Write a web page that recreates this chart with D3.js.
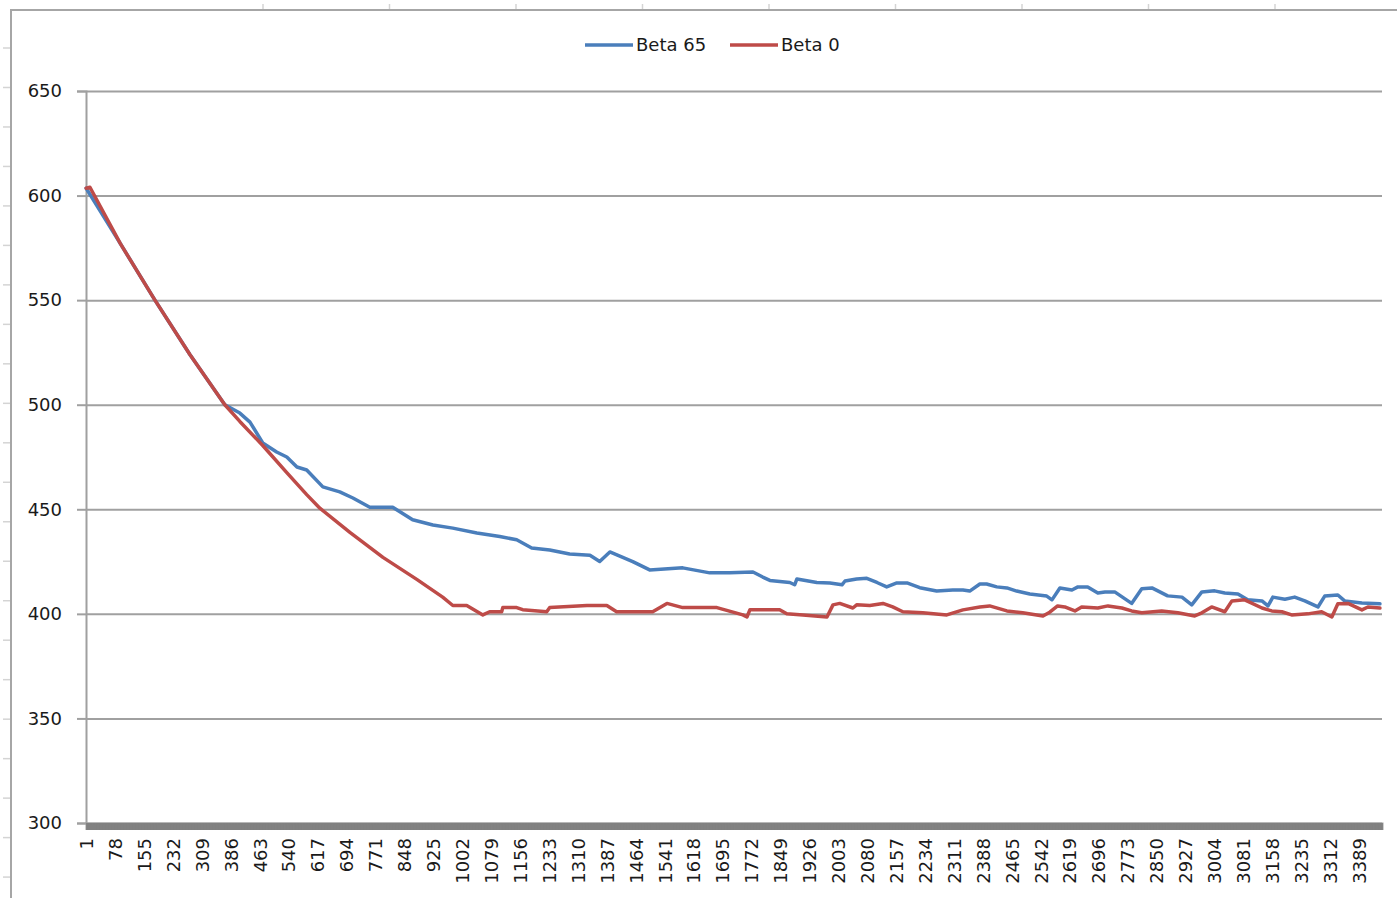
<!DOCTYPE html>
<html>
<head>
<meta charset="utf-8">
<script src="https://cdn.jsdelivr.net/npm/d3@7"></script>
<style>
  html, body { margin: 0; padding: 0; background: #fff; }
  svg { display: block; }
  text { font-family: "DejaVu Sans", Verdana, sans-serif; fill: #1a1a1a; }
</style>
</head>
<body>
<svg id="chart" width="1397" height="898"></svg>
<script>
// number of categories on the x axis (1 .. N)
const categoryCount = 3450;

const xTickLabels = [1, 78, 155, 232, 309, 386, 463, 540, 617, 694, 771, 848, 925, 1002, 1079,
  1156, 1233, 1310, 1387, 1464, 1541, 1618, 1695, 1772, 1849, 1926, 2003, 2080, 2157, 2234,
  2311, 2388, 2465, 2542, 2619, 2696, 2773, 2850, 2927, 3004, 3081, 3158, 3235, 3312, 3389];

const yTicks = [300, 350, 400, 450, 500, 550, 600, 650];

// Beta 65 : [category, value]
const beta65 = [
  [1, 603.5], [92, 577], [184, 550], [277, 524], [370, 500], [410, 496], [437, 491.7],
  [471, 481.7], [508, 477.4], [535, 475], [562, 470.2], [588, 468.8], [631, 460.7],
  [676, 458.3], [711, 455.4], [756, 451], [817, 451], [870, 445], [924, 442.5], [977, 441],
  [1041, 438.7], [1102, 437], [1147, 435.4], [1187, 431.5], [1235, 430.5], [1288, 428.6],
  [1342, 428], [1368, 425], [1395, 429.6], [1456, 425], [1501, 421], [1589, 422],
  [1661, 419.6], [1714, 419.6], [1776, 420], [1802, 417.6], [1821, 416], [1874, 415],
  [1887, 413.9], [1893, 416.7], [1946, 415], [1981, 414.8], [2013, 413.9], [2021, 415.7],
  [2052, 416.7], [2079, 417], [2106, 415], [2132, 412.9], [2159, 414.8], [2186, 414.8],
  [2220, 412.5], [2265, 410.9], [2308, 411.4], [2335, 411.4], [2353, 410.9], [2380, 414.3],
  [2398, 414.3], [2425, 412.9], [2452, 412.4], [2478, 410.9], [2513, 409.5], [2558, 408.5],
  [2572, 406.7], [2593, 412.4], [2625, 411.4], [2641, 412.9], [2667, 412.9], [2694, 410],
  [2713, 410.5], [2739, 410.5], [2784, 405], [2811, 412], [2838, 412.4], [2880, 408.6],
  [2918, 408], [2944, 404.3], [2971, 410.5], [3005, 411], [3032, 410], [3067, 409.5],
  [3093, 406.7], [3131, 406.2], [3147, 403.8], [3160, 408], [3192, 407], [3218, 408],
  [3245, 406.2], [3280, 403.3], [3298, 408.5], [3333, 409], [3351, 406.2], [3397, 405.2],
  [3445, 404.8]
];

// Beta 0 : [category, value]
const beta0 = [
  [1, 603.5], [11, 604], [92, 577], [184, 550], [277, 524], [370, 500], [410, 492],
  [471, 480.5], [535, 467.5], [588, 457], [623, 450.5], [703, 439], [791, 427],
  [881, 416.5], [950, 408], [977, 404], [1014, 404], [1057, 399.5], [1075, 401],
  [1107, 401], [1110, 403], [1147, 403], [1163, 402], [1227, 401], [1235, 403],
  [1334, 404], [1387, 404], [1413, 401], [1509, 401], [1547, 405], [1589, 403],
  [1680, 403], [1749, 399.5], [1760, 398.5], [1768, 402], [1847, 402], [1866, 400],
  [1909, 399.5], [1973, 398.5], [1989, 404.3], [2007, 405], [2042, 402.8], [2052, 404.3],
  [2087, 404], [2122, 405], [2148, 403.3], [2175, 401], [2228, 400.5], [2292, 399.5],
  [2335, 401.9], [2380, 403.3], [2406, 403.8], [2452, 401.4], [2494, 400.5], [2548, 399],
  [2566, 400.8], [2587, 403.8], [2606, 403.3], [2633, 401.4], [2651, 403.3], [2694, 402.8],
  [2721, 403.8], [2758, 402.8], [2784, 401.4], [2811, 400.5], [2864, 401.4], [2907, 400.5],
  [2952, 399], [2971, 400.5], [2997, 403.3], [3032, 401], [3051, 406.2], [3085, 406.7],
  [3131, 402.8], [3157, 401.4], [3184, 401], [3210, 399.5], [3253, 400], [3290, 401],
  [3317, 398.5], [3333, 404.8], [3360, 405], [3397, 401.9], [3413, 403.3], [3445, 402.8]
];

const seriesNames = ['Beta 65', 'Beta 0'];
const seriesColors = ['#4a7ebb', '#be4b48'];

const svg = d3.select('#chart');
const plot = { left: 86, right: 1382, top: 91, bottom: 823 };

const x = d3.scaleLinear().domain([0.5, categoryCount + 0.5]).range([plot.left, plot.right]);
const y = d3.scaleLinear().domain([300, 650]).range([plot.bottom, plot.top]);

// spreadsheet cell marks peeking out around the chart object
const sheet = svg.append('g').attr('stroke', '#d4d4d4').attr('stroke-width', 1.5);
d3.range(9).forEach((k) => {
  const cx = 263 + k * 126.5;
  sheet.append('line').attr('x1', cx).attr('x2', cx).attr('y1', 4).attr('y2', 10);
});
d3.range(22).forEach((k) => {
  const cy = 48 + k * 39.48;
  sheet.append('line').attr('x1', 3).attr('x2', 11).attr('y1', cy).attr('y2', cy);
});

// chart area border (top and left edges are visible)
svg.append('path')
  .attr('d', 'M11,898 L11,10 L1397,10')
  .attr('fill', 'none')
  .attr('stroke', '#a6a6a6')
  .attr('stroke-width', 2);

// horizontal gridlines
svg.append('g')
  .attr('transform', `translate(${plot.left},0)`)
  .call(d3.axisLeft(y).tickValues(yTicks).tickSize(-(plot.right - plot.left)).tickFormat(''))
  .call(g => g.select('.domain').remove())
  .call(g => g.selectAll('line').attr('stroke', '#a0a0a0').attr('stroke-width', 2));

// y axis
svg.append('g')
  .attr('transform', `translate(${plot.left},0)`)
  .call(d3.axisLeft(y).tickValues(yTicks).tickSize(9).tickPadding(15))
  .call(g => g.select('.domain').attr('stroke', '#a0a0a0').attr('stroke-width', 2))
  .call(g => g.selectAll('line').attr('stroke', '#a0a0a0').attr('stroke-width', 2))
  .call(g => g.selectAll('text').attr('font-size', 18).attr('fill', '#1a1a1a'));

// x axis: one tick mark per category (they merge into a solid bar)
svg.append('g')
  .attr('transform', `translate(0,${plot.bottom})`)
  .call(d3.axisBottom(x).tickValues(d3.range(1, categoryCount + 1)).tickSize(7).tickFormat(''))
  .call(g => g.select('.domain').attr('stroke', '#a0a0a0').attr('stroke-width', 2))
  .call(g => g.selectAll('.tick line').attr('stroke', '#808080').attr('stroke-width', 1));

// x tick labels, rotated
svg.append('g')
  .attr('transform', `translate(0,${plot.bottom})`)
  .call(d3.axisBottom(x).tickValues(xTickLabels).tickSize(0).tickFormat(d3.format('d')))
  .call(g => g.select('.domain').remove())
  .call(g => g.selectAll('text')
    .attr('font-size', 18)
    .attr('fill', '#1a1a1a')
    .attr('text-anchor', 'end')
    .attr('transform', 'rotate(-90)')
    .attr('x', -15)
    .attr('y', 0)
    .attr('dy', '0.35em'));

// series lines
const line = d3.line().x(d => x(d[0])).y(d => y(d[1]));
[beta65, beta0].forEach((data, i) => {
  svg.append('path')
    .datum(data)
    .attr('d', line)
    .attr('fill', 'none')
    .attr('stroke', seriesColors[i])
    .attr('stroke-width', 3.5)
    .attr('stroke-linejoin', 'round')
    .attr('stroke-linecap', 'round');
});

// legend
const legendX = [585, 730];
const legend = svg.append('g');
seriesNames.forEach((name, i) => {
  const g = legend.append('g').attr('transform', `translate(${legendX[i]},45)`);
  g.append('line').attr('x1', 0).attr('x2', 48).attr('y1', 0).attr('y2', 0)
    .attr('stroke', seriesColors[i]).attr('stroke-width', 3.5);
  g.append('text').attr('x', 51).attr('y', 0).attr('dy', '0.35em')
    .attr('font-size', 18).text(name);
});
</script>
</body>
</html>
